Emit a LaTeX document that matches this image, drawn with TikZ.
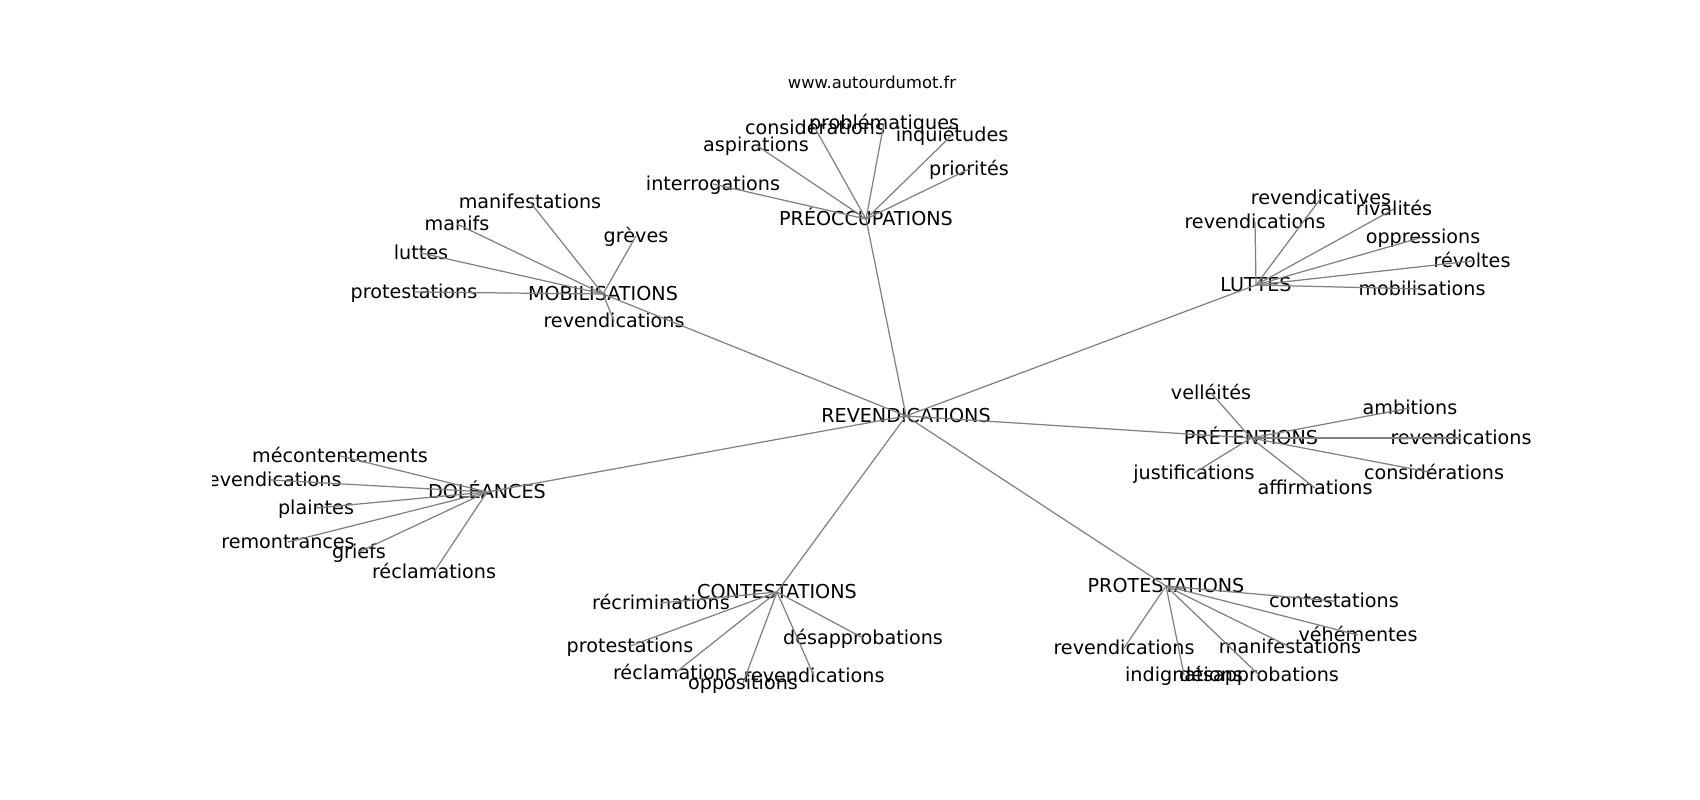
\documentclass[tikz,border=0pt]{standalone}
\usepackage{fontspec}
\setmainfont{DejaVu Sans}
\begin{document}
\begin{tikzpicture}[x=0.01cm,y=-0.01cm,
  word/.style={inner sep=0pt,text height=4.14pt,text depth=0.72pt,font=\fontsize{5.45}{6.5}\selectfont},
  link/.style={draw,black!50,line width=0.35pt}]
\useasboundingbox (0,0) rectangle (1700,800);
\node[font=\fontsize{4.65}{5.5}\selectfont] (t) at (872,82) {www.autourdumot.fr};
\begin{scope}
\clip (212,90) rectangle (1532,720);
\node[word] (0) at (906,416) {REVENDICATIONS};
\node[word] (1) at (866,219) {PRÉOCCUPATIONS};
\node[word] (2) at (713,184) {interrogations};
\node[word] (3) at (756,145) {aspirations};
\node[word] (4) at (815,128) {considérations};
\node[word] (5) at (884,123) {problématiques};
\node[word] (6) at (952,135) {inquiétudes};
\node[word] (7) at (969,169) {priorités};
\node[word] (8) at (603,294) {MOBILISATIONS};
\node[word] (9) at (530,202) {manifestations};
\node[word] (10) at (457,224) {manifs};
\node[word] (11) at (421,253) {luttes};
\node[word] (12) at (414,292) {protestations};
\node[word] (13) at (636,236) {grèves};
\node[word] (14) at (614,321) {revendications};
\node[word] (15) at (1256,285) {LUTTES};
\node[word] (16) at (1255,222) {revendications};
\node[word] (17) at (1321,198) {revendicatives};
\node[word] (18) at (1394,209) {rivalités};
\node[word] (19) at (1423,237) {oppressions};
\node[word] (20) at (1472,261) {révoltes};
\node[word] (21) at (1422,289) {mobilisations};
\node[word] (22) at (1251,438) {PRÉTENTIONS};
\node[word] (23) at (1211,393) {velléités};
\node[word] (24) at (1410,408) {ambitions};
\node[word] (25) at (1461,438) {revendications};
\node[word] (26) at (1434,473) {considérations};
\node[word] (27) at (1315,488) {affirmations};
\node[word] (28) at (1194,473) {justifications};
\node[word] (29) at (487,492) {DOLÉANCES};
\node[word] (30) at (340,456) {mécontentements};
\node[word] (31) at (271,480) {revendications};
\node[word] (32) at (316,508) {plaintes};
\node[word] (33) at (288,542) {remontrances};
\node[word] (34) at (359,552) {griefs};
\node[word] (35) at (434,572) {réclamations};
\node[word] (36) at (777,592) {CONTESTATIONS};
\node[word] (37) at (661,603) {récriminations};
\node[word] (38) at (630,646) {protestations};
\node[word] (39) at (675,673) {réclamations};
\node[word] (40) at (743,683) {oppositions};
\node[word] (41) at (814,676) {revendications};
\node[word] (42) at (863,638) {désapprobations};
\node[word] (43) at (1166,586) {PROTESTATIONS};
\node[word] (44) at (1334,601) {contestations};
\node[word] (45) at (1358,635) {véhémentes};
\node[word] (46) at (1290,647) {manifestations};
\node[word] (47) at (1124,648) {revendications};
\node[word] (48) at (1184,675) {indignations};
\node[word] (49) at (1259,675) {désapprobations};

\path[link] (0.center) -- (1.center);
\path[link] (0.center) -- (8.center);
\path[link] (0.center) -- (15.center);
\path[link] (0.center) -- (22.center);
\path[link] (0.center) -- (29.center);
\path[link] (0.center) -- (36.center);
\path[link] (0.center) -- (43.center);
\path[link] (1.center) -- (2.center);
\path[link] (1.center) -- (3.center);
\path[link] (1.center) -- (4.center);
\path[link] (1.center) -- (5.center);
\path[link] (1.center) -- (6.center);
\path[link] (1.center) -- (7.center);
\path[link] (8.center) -- (9.center);
\path[link] (8.center) -- (10.center);
\path[link] (8.center) -- (11.center);
\path[link] (8.center) -- (12.center);
\path[link] (8.center) -- (13.center);
\path[link] (8.center) -- (14.center);
\path[link] (15.center) -- (16.center);
\path[link] (15.center) -- (17.center);
\path[link] (15.center) -- (18.center);
\path[link] (15.center) -- (19.center);
\path[link] (15.center) -- (20.center);
\path[link] (15.center) -- (21.center);
\path[link] (22.center) -- (23.center);
\path[link] (22.center) -- (24.center);
\path[link] (22.center) -- (25.center);
\path[link] (22.center) -- (26.center);
\path[link] (22.center) -- (27.center);
\path[link] (22.center) -- (28.center);
\path[link] (29.center) -- (30.center);
\path[link] (29.center) -- (31.center);
\path[link] (29.center) -- (32.center);
\path[link] (29.center) -- (33.center);
\path[link] (29.center) -- (34.center);
\path[link] (29.center) -- (35.center);
\path[link] (36.center) -- (37.center);
\path[link] (36.center) -- (38.center);
\path[link] (36.center) -- (39.center);
\path[link] (36.center) -- (40.center);
\path[link] (36.center) -- (41.center);
\path[link] (36.center) -- (42.center);
\path[link] (43.center) -- (44.center);
\path[link] (43.center) -- (45.center);
\path[link] (43.center) -- (46.center);
\path[link] (43.center) -- (47.center);
\path[link] (43.center) -- (48.center);
\path[link] (43.center) -- (49.center);
\end{scope}
\end{tikzpicture}
\end{document}
